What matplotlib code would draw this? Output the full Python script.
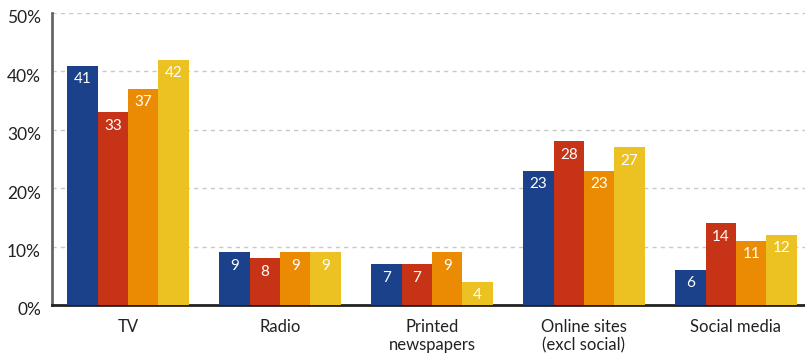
import matplotlib
matplotlib.use("Agg")
import matplotlib.pyplot as plt
import matplotlib.transforms as mtransforms
import numpy as np

# data
categories = ["TV", "Radio", "Printed\nnewspapers", "Online sites\n(excl social)", "Social media"]
series_a = [41, 9, 7, 23, 6]
series_b = [33, 8, 7, 28, 14]
series_c = [37, 9, 9, 23, 11]
series_d = [42, 9, 4, 27, 12]
colors = ["#1a418a", "#c73316", "#eb8b04", "#ecc222"]
yticks = [0, 10, 20, 30, 40, 50]

plt.rcParams["font.family"] = ["Lato", "DejaVu Sans"]

fig = plt.figure(figsize=(8.05, 3.56), dpi=100)
ax = fig.add_axes([0.0646, 0.1433, 0.9354, 0.8202])

x = np.arange(len(categories))
w = 0.2
for i, (vals, col) in enumerate(zip([series_a, series_b, series_c, series_d], colors)):
    pos = x + (i - 1.5) * w
    ax.bar(pos, vals, width=w, color=col, zorder=3)
    for p, v in zip(pos, vals):
        ax.text(p, v - 2.3, str(v), ha="center", va="center", color="white",
                fontsize=11, zorder=4)

ax.set_xlim(-0.5, 4.454)
ax.set_ylim(0, 50)
ax.set_yticks(yticks)
ax.set_yticklabels([f"{t}%" for t in yticks], fontsize=12.5, color="#222222")
ax.set_xticks(x)
ax.set_xticklabels(categories, fontsize=12, color="#222222", linespacing=1.2)
ax.tick_params(axis="both", length=0)
ax.tick_params(axis="y", pad=8)
ax.tick_params(axis="x", pad=10)

# y labels sit a little below their gridline
shift = mtransforms.ScaledTranslation(0, -4 / 100, fig.dpi_scale_trans)
for lbl in ax.get_yticklabels():
    lbl.set_transform(lbl.get_transform() + shift)

ax.yaxis.grid(True, linestyle=(0, (3, 3)), color="#c8c8c8", linewidth=1)
ax.set_axisbelow(True)
for s in ["top", "right"]:
    ax.spines[s].set_visible(False)
ax.spines["left"].set_color("#666666")
ax.spines["left"].set_linewidth(2)
ax.spines["bottom"].set_color("#222222")
ax.spines["bottom"].set_linewidth(2)

fig.savefig("out.png", dpi=100)
